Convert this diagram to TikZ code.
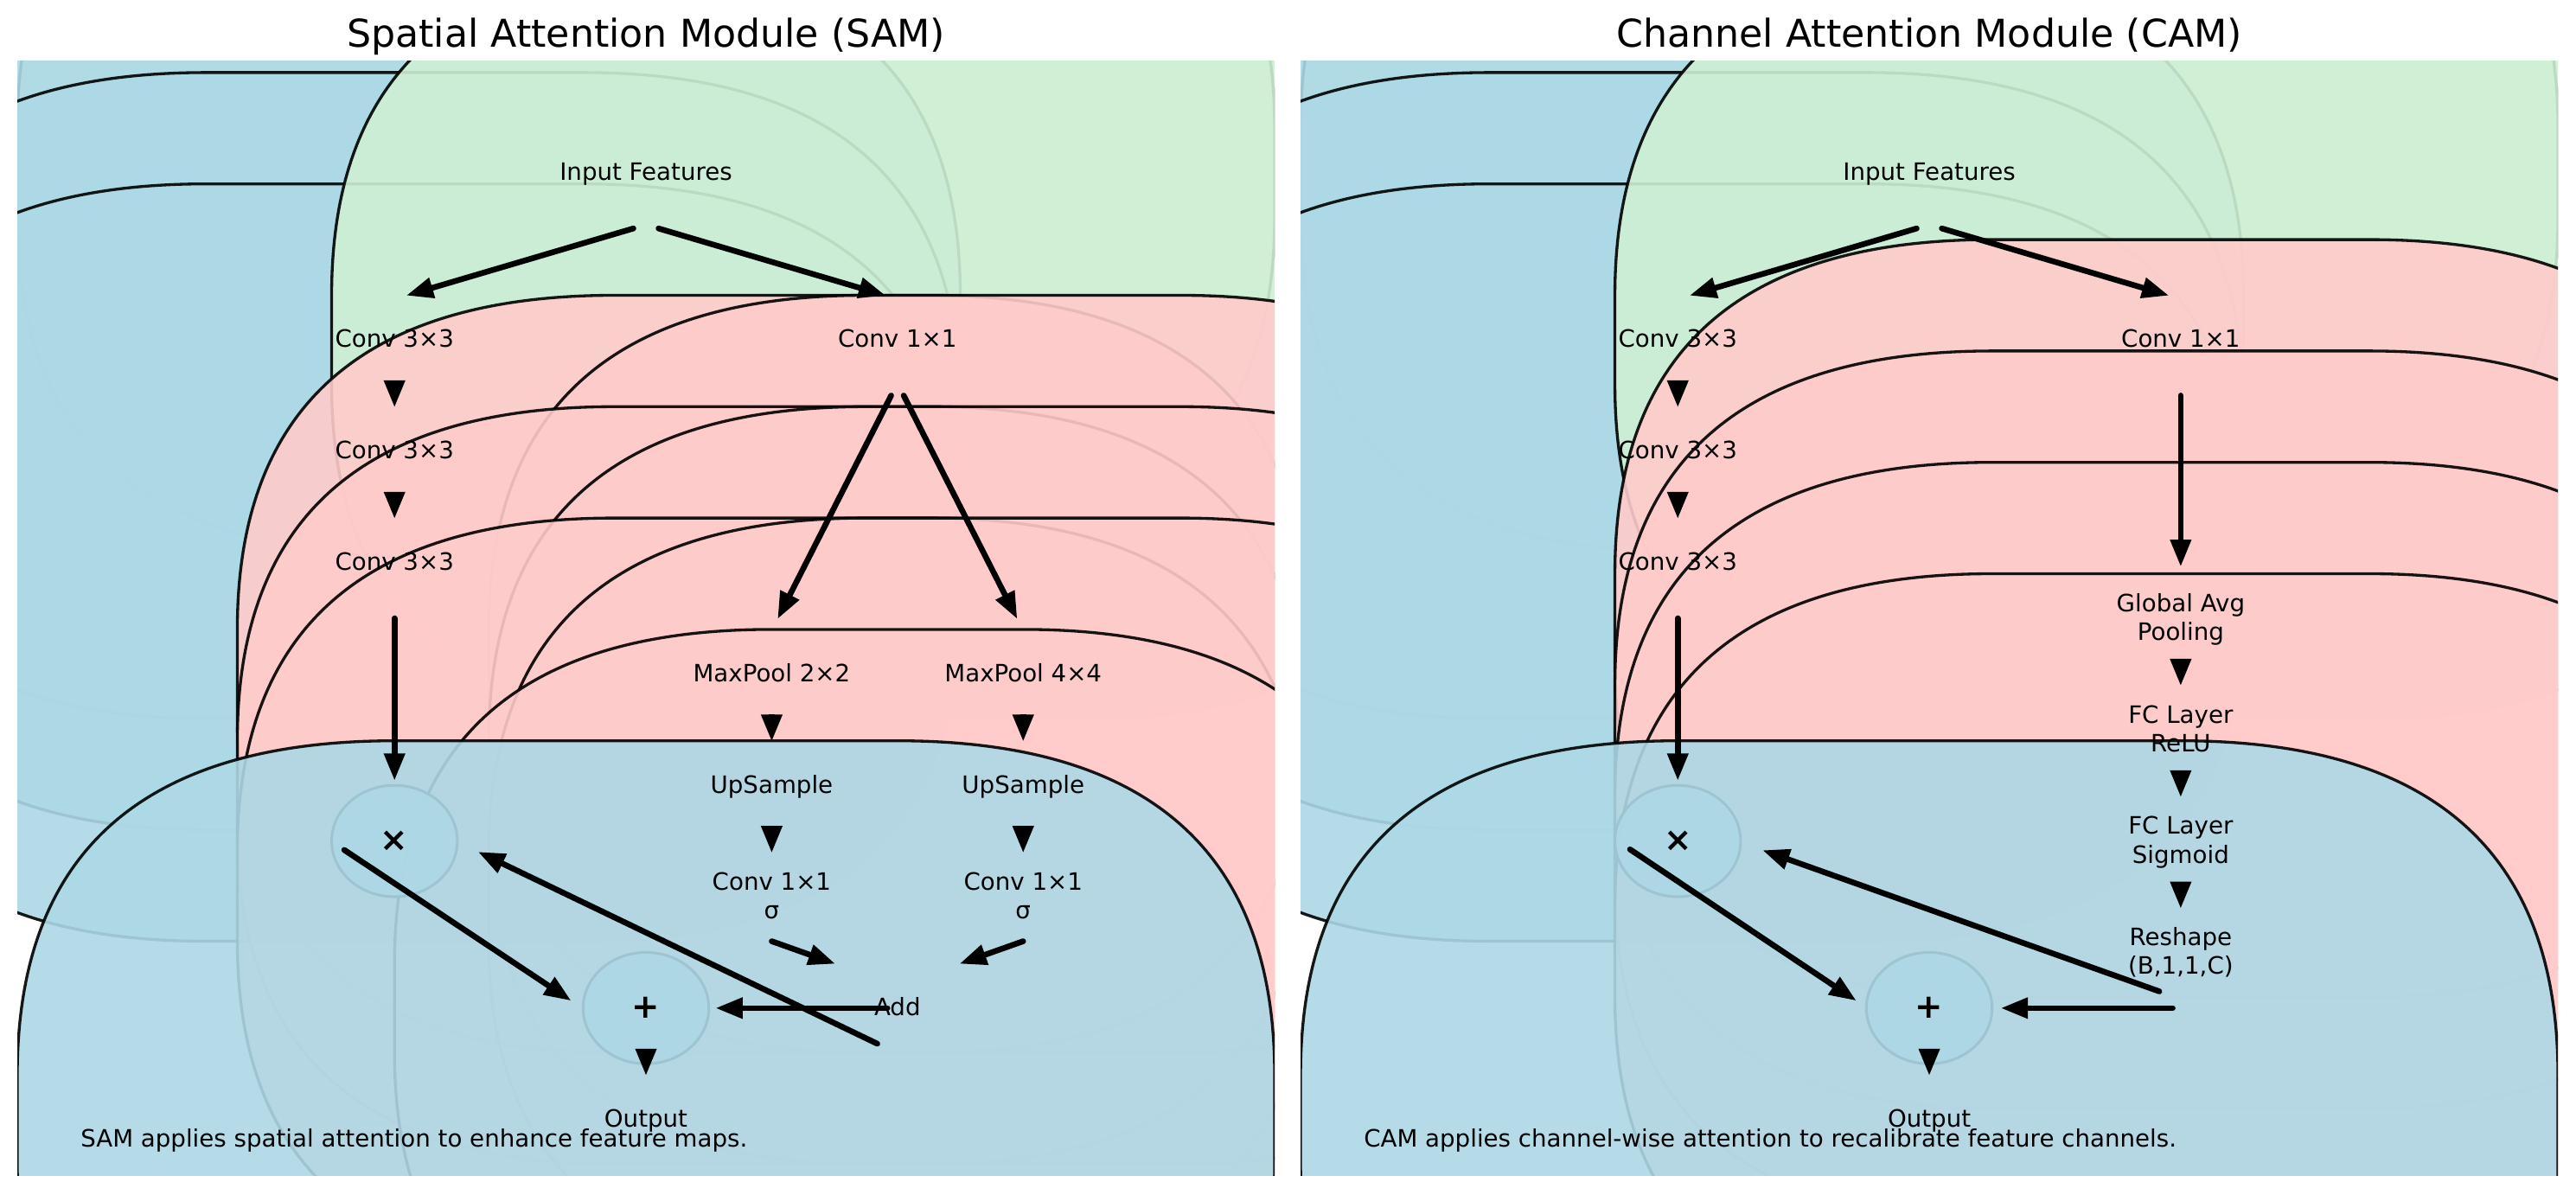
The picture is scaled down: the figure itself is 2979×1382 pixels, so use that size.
\documentclass[tikz,border=0pt]{standalone}
\usepackage{fontspec}
\setmainfont{DejaVu Sans}
\usetikzlibrary{arrows.meta}
\definecolor{bxblue}{RGB}{173,216,230}
\definecolor{bxgreen}{RGB}{207,240,212}
\definecolor{bxpink}{RGB}{255,203,203}
\tikzset{
  boxsty/.style={line width=1.2pt, draw=black, fill opacity=0.9, draw opacity=0.9},
  circsty/.style={line width=1.1pt, draw=black, fill=bxblue, fill opacity=0.9, draw opacity=0.9},
  arr/.style={line width=2.4pt, line cap=round, -{Triangle[length=3.85mm,width=3.2mm,line width=0pt]}},
  tri/.style={arr, line cap=butt},
  lbl/.style={font=\fontsize{10}{12}\selectfont, inner sep=0pt, align=center, yshift=-0.8pt},
  opsym/.style={font=\fontsize{14}{16}\selectfont\bfseries, inner sep=0pt},
  ttl/.style={font=\fontsize{16}{19}\selectfont, inner sep=0pt, anchor=base, yshift=6pt},
  capt/.style={font=\fontsize{10}{12}\selectfont, inner sep=0pt, anchor=base west, yshift=2.3pt},
}
% rounded box as drawn by a "round,pad=0.3" patch: centre, half width incl. pad, colour
\newcommand\mplbox[4]{%
  \pgfmathsetmacro\bxl{#1-#3}%
  \pgfmathsetmacro\bxr{#1+#3}%
  \pgfmathsetmacro\bxb{#2-0.34}%
  \pgfmathsetmacro\bxt{#2+0.34}%
  \filldraw[boxsty, fill=#4] (\bxl+0.3,\bxt) -- (\bxr-0.3,\bxt)
    .. controls (\bxr-0.1,\bxt) and (\bxr,\bxt-0.1) .. (\bxr,\bxt-0.3)
    -- (\bxr,\bxb+0.3)
    .. controls (\bxr,\bxb+0.1) and (\bxr-0.1,\bxb) .. (\bxr-0.3,\bxb)
    -- (\bxl+0.3,\bxb)
    .. controls (\bxl+0.1,\bxb) and (\bxl,\bxb+0.1) .. (\bxl,\bxb+0.3)
    -- (\bxl,\bxt-0.3)
    .. controls (\bxl,\bxt-0.1) and (\bxl+0.1,\bxt) .. cycle;
}
\newcommand\conn[3]{\coordinate (#1s) at (#2); \coordinate (#1e) at (#3); \draw[arr] (#1s) -- (#1e);}
\newcommand\step[3]{\coordinate (#1s) at (#2); \coordinate (#1e) at (#3); \draw[tri] (#1s) -- (#1e);}
\begin{document}
\begin{tikzpicture}[x=0.127mm, y=-0.127mm]
\useasboundingbox (0,0) rectangle (2979,1382);
\fill[white] (0,0) rectangle (2979,1382);

% ================= SAM =================
\begin{scope}[xshift=2.54mm, yshift=-172.593mm, x={(184.658mm,0mm)}, y={(0mm,163.576mm)}]
  \begin{scope}
    \clip (0,0) rectangle (1,1);
    \mplbox{0.5}{0.9}{0.5}{bxgreen}
    \mplbox{0.3}{0.75}{0.45}{bxblue}
    \mplbox{0.3}{0.65}{0.45}{bxblue}
    \mplbox{0.3}{0.55}{0.45}{bxblue}
    \mplbox{0.7}{0.75}{0.45}{bxgreen}
    \mplbox{0.6}{0.45}{0.425}{bxpink}
    \mplbox{0.8}{0.45}{0.425}{bxpink}
    \mplbox{0.6}{0.35}{0.425}{bxpink}
    \mplbox{0.8}{0.35}{0.425}{bxpink}
    \mplbox{0.6}{0.25}{0.425}{bxpink}
    \mplbox{0.8}{0.25}{0.425}{bxpink}
    \mplbox{0.7}{0.15}{0.4}{bxpink}
    \filldraw[circsty] (0.3,0.3) circle[radius=0.05];
    \filldraw[circsty] (0.5,0.15) circle[radius=0.05];
    \mplbox{0.5}{0.05}{0.5}{bxblue}
  \end{scope}
  \node[ttl] (sTitle) at (0.5,1) {Spatial Attention Module (SAM)};
  \node[lbl] (sIn) at (0.5,0.9) {Input Features\strut};
  \node[lbl] (sC3a) at (0.3,0.75) {Conv 3×3\strut};
  \node[lbl] (sC3b) at (0.3,0.65) {Conv 3×3\strut};
  \node[lbl] (sC3c) at (0.3,0.55) {Conv 3×3\strut};
  \node[lbl] (sC1) at (0.7,0.75) {Conv 1×1\strut};
  \node[lbl] (sMPa) at (0.6,0.45) {MaxPool 2×2\strut};
  \node[lbl] (sMPb) at (0.8,0.45) {MaxPool 4×4\strut};
  \node[lbl] (sUSa) at (0.6,0.35) {UpSample\strut};
  \node[lbl] (sUSb) at (0.8,0.35) {UpSample\strut};
  \node[lbl] (sCSa) at (0.6,0.25) {Conv 1×1\strut\\σ\strut};
  \node[lbl] (sCSb) at (0.8,0.25) {Conv 1×1\strut\\σ\strut};
  \node[lbl] (sAdd) at (0.7,0.15) {Add\strut};
  \node[opsym] (sMul) at (0.3,0.3) {×};
  \node[opsym] (sPlus) at (0.5,0.15) {+};
  \node[lbl] (sOut) at (0.5,0.05) {Output\strut};
  \node[capt] (sCap) at (0.05,0.02) {SAM applies spatial attention to enhance feature maps.};
  \conn{sa}{0.49,0.85}{0.31,0.79}
  \conn{sb}{0.51,0.85}{0.69,0.79}
  \step{sc}{0.3,0.71}{0.3,0.69}
  \step{sd}{0.3,0.61}{0.3,0.59}
  \conn{se}{0.3,0.50}{0.3,0.355}
  \conn{sf}{0.695,0.70}{0.605,0.50}
  \conn{sg}{0.705,0.70}{0.795,0.50}
  \step{sh}{0.6,0.41}{0.6,0.39}
  \step{si}{0.8,0.41}{0.8,0.39}
  \step{sj}{0.6,0.31}{0.6,0.29}
  \step{sk}{0.8,0.31}{0.8,0.29}
  \conn{sl}{0.6,0.21}{0.65,0.19}
  \conn{sm}{0.8,0.21}{0.75,0.19}
  \conn{sn}{0.692,0.15}{0.556,0.15}
  \conn{so}{0.684,0.118}{0.367,0.29}
  \conn{sp}{0.26,0.292}{0.44,0.157}
  \step{sq}{0.5,0.11}{0.5,0.09}
\end{scope}

% ================= CAM =================
\begin{scope}[xshift=191.008mm, yshift=-172.593mm, x={(184.658mm,0mm)}, y={(0mm,163.576mm)}]
  \begin{scope}
    \clip (0,0) rectangle (1,1);
    \mplbox{0.5}{0.9}{0.5}{bxgreen}
    \mplbox{0.3}{0.75}{0.45}{bxblue}
    \mplbox{0.3}{0.65}{0.45}{bxblue}
    \mplbox{0.3}{0.55}{0.45}{bxblue}
    \mplbox{0.7}{0.75}{0.45}{bxgreen}
    \mplbox{0.7}{0.5}{0.45}{bxpink}
    \mplbox{0.7}{0.4}{0.45}{bxpink}
    \mplbox{0.7}{0.3}{0.45}{bxpink}
    \mplbox{0.7}{0.2}{0.45}{bxpink}
    \filldraw[circsty] (0.3,0.3) circle[radius=0.05];
    \filldraw[circsty] (0.5,0.15) circle[radius=0.05];
    \mplbox{0.5}{0.05}{0.5}{bxblue}
  \end{scope}
  \node[ttl] (cTitle) at (0.5,1) {Channel Attention Module (CAM)};
  \node[lbl] (cIn) at (0.5,0.9) {Input Features\strut};
  \node[lbl] (cC3a) at (0.3,0.75) {Conv 3×3\strut};
  \node[lbl] (cC3b) at (0.3,0.65) {Conv 3×3\strut};
  \node[lbl] (cC3c) at (0.3,0.55) {Conv 3×3\strut};
  \node[lbl] (cC1) at (0.7,0.75) {Conv 1×1\strut};
  \node[lbl] (cGap) at (0.7,0.5) {Global Avg\strut\\Pooling\strut};
  \node[lbl] (cFCa) at (0.7,0.4) {FC Layer\strut\\ReLU\strut};
  \node[lbl] (cFCb) at (0.7,0.3) {FC Layer\strut\\Sigmoid\strut};
  \node[lbl] (cRes) at (0.7,0.2) {Reshape\strut\\(B,1,1,C)\strut};
  \node[opsym] (cMul) at (0.3,0.3) {×};
  \node[opsym] (cPlus) at (0.5,0.15) {+};
  \node[lbl] (cOut) at (0.5,0.05) {Output\strut};
  \node[capt] (cCap) at (0.05,0.02) {CAM applies channel-wise attention to recalibrate feature channels.};
  \conn{ca}{0.49,0.85}{0.31,0.79}
  \conn{cb}{0.51,0.85}{0.69,0.79}
  \step{cc}{0.3,0.71}{0.3,0.69}
  \step{cd}{0.3,0.61}{0.3,0.59}
  \conn{ce}{0.3,0.50}{0.3,0.355}
  \conn{cf}{0.7,0.70}{0.7,0.547}
  \step{cg}{0.7,0.46}{0.7,0.44}
  \step{ch}{0.7,0.36}{0.7,0.34}
  \step{ci}{0.7,0.26}{0.7,0.24}
  \conn{cj}{0.683,0.165}{0.368,0.2915}
  \conn{ck}{0.6936,0.15}{0.5576,0.15}
  \conn{cl}{0.262,0.2925}{0.4415,0.157}
  \step{cm}{0.5,0.11}{0.5,0.09}
\end{scope}
\end{tikzpicture}
\end{document}
